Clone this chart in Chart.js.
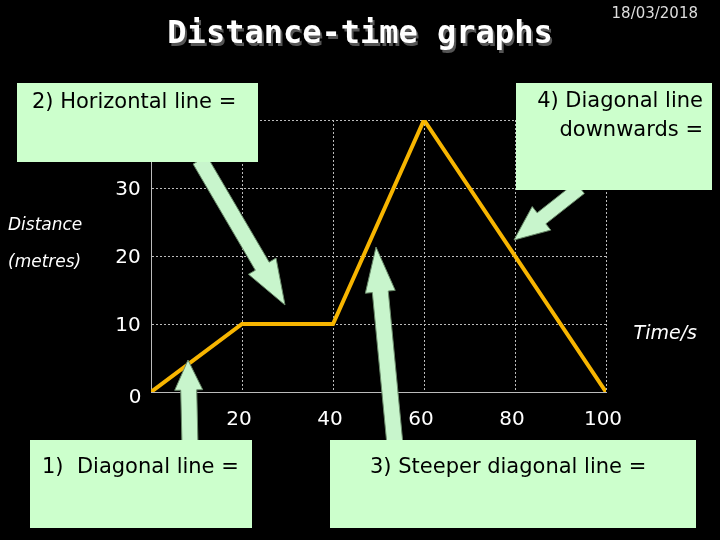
<!DOCTYPE html>
<html><head><meta charset="utf-8">
<script src="https://cdn.jsdelivr.net/npm/chart.js@4/dist/chart.umd.min.js"></script>
<style>html,body{margin:0;background:#000;}#c{display:block}</style>
</head><body>
<canvas id="c" width="720" height="540"></canvas>
<script>
const timeValues = [0, 20, 40, 60, 100];
const distanceValues = [0, 10, 10, 40, 0];
const xTickLabels = [20, 40, 60, 80, 100];
const yTickLabels = [0, 10, 20, 30];

function arrow(ctx, x0, y0, x1, y1, w, hw, hl) {
  const dx = x1 - x0, dy = y1 - y0, L = Math.hypot(dx, dy);
  const ux = dx / L, uy = dy / L, nx = -uy, ny = ux;
  const bx = x1 - ux * hl, by = y1 - uy * hl;
  ctx.beginPath();
  ctx.moveTo(x0 + nx * w, y0 + ny * w);
  ctx.lineTo(bx + nx * w, by + ny * w);
  ctx.lineTo(bx + nx * hw, by + ny * hw);
  ctx.lineTo(x1, y1);
  ctx.lineTo(bx - nx * hw, by - ny * hw);
  ctx.lineTo(bx - nx * w, by - ny * w);
  ctx.lineTo(x0 - nx * w, y0 - ny * w);
  ctx.closePath();
  ctx.fillStyle = '#c8f5cc'; ctx.fill();
  ctx.strokeStyle = '#6a8a6a'; ctx.lineWidth = 1; ctx.stroke();
}

const deco = {
  id: 'deco',
  afterDraw(chart) {
    const ctx = chart.ctx, xs = chart.scales.x, ys = chart.scales.y;
    ctx.save();
    ctx.fillStyle = '#fff';
    ctx.font = '20px "DejaVu Sans"';
    ctx.textBaseline = 'middle';
    ctx.textAlign = 'center';
    xTickLabels.forEach(v => ctx.fillText(String(v), xs.getPixelForValue(v) - 3, 420));
    yTickLabels.forEach(v => {
      if (v === 0) ctx.fillText('0', 135, ys.getPixelForValue(0) + 6);
      else ctx.fillText(String(v), 128, ys.getPixelForValue(v) + 2);
    });
    ctx.font = 'italic 17px "DejaVu Sans"';
    ctx.textAlign = 'left';
    ctx.fillText('Distance', 8, 226);
    ctx.fillText('(metres)', 8, 263);
    ctx.textAlign = 'right';
    ctx.font = 'italic 19px "DejaVu Sans"';
    ctx.fillText('Time/s', 697, 334);
    // title
    ctx.textAlign = 'center';
    ctx.font = 'bold 32px "DejaVu Sans Mono"';
    ctx.fillStyle = '#555';
    ctx.fillText('Distance-time graphs', 362, 38);
    ctx.fillStyle = '#fff';
    ctx.fillText('Distance-time graphs', 360, 35);
    ctx.textAlign = 'right';
    ctx.font = '15px "DejaVu Sans"';
    ctx.fillStyle = '#ddd';
    ctx.fillText('18/03/2018', 698, 14);
    // arrows
    arrow(ctx, 200, 160, 285, 305, 8, 16, 45);
    arrow(ctx, 580, 188, 514, 240, 7, 15, 35);
    arrow(ctx, 190, 445, 188, 360, 8, 14, 30);
    arrow(ctx, 395, 445, 376, 247, 8, 15, 45);
    // boxes
    ctx.fillStyle = '#ccffcc';
    ctx.fillRect(17, 83, 241, 79);
    ctx.fillRect(516, 83, 196, 107);
    ctx.fillRect(30, 440, 222, 88);
    ctx.fillRect(330, 440, 366, 88);
    ctx.fillStyle = '#000';
    ctx.font = '21px "DejaVu Sans"';
    ctx.textAlign = 'left';
    ctx.fillText('2) Horizontal line =', 32, 103);
    ctx.fillText('1)  Diagonal line =', 42, 468);
    ctx.fillText('3) Steeper diagonal line =', 370, 468);
    ctx.textAlign = 'right';
    ctx.fillText('4) Diagonal line', 703, 102);
    ctx.fillText('downwards =', 703, 131);
    ctx.restore();
  }
};

new Chart(document.getElementById('c'), {
  type: 'line',
  data: { datasets: [{
    data: timeValues.map((t, i) => ({ x: t, y: distanceValues[i] })),
    borderColor: '#f7b500', borderWidth: 4, pointRadius: 0, tension: 0, fill: false
  }]},
  options: {
    responsive: false, animation: false,
    layout: { padding: { left: 151, right: 114, top: 120, bottom: 148 } },
    plugins: { legend: { display: false }, tooltip: { enabled: false } },
    scales: {
      x: { type: 'linear', min: 0, max: 100,
        ticks: { display: false, stepSize: 20 },
        grid: { color: '#bbb', lineWidth: 1, drawTicks: false },
        border: { display: true, color: '#bbb', dash: [2, 2] } },
      y: { type: 'linear', min: 0, max: 40,
        ticks: { display: false, stepSize: 10 },
        grid: { color: '#bbb', lineWidth: 1, drawTicks: false },
        border: { display: true, color: '#bbb', dash: [2, 2] } }
    }
  },
  plugins: [deco, {
    id: 'bg',
    beforeDraw(c) { c.ctx.save(); c.ctx.fillStyle = '#000'; c.ctx.fillRect(0, 0, c.width, c.height); c.ctx.restore(); }
  }]
});
</script>
</body></html>
